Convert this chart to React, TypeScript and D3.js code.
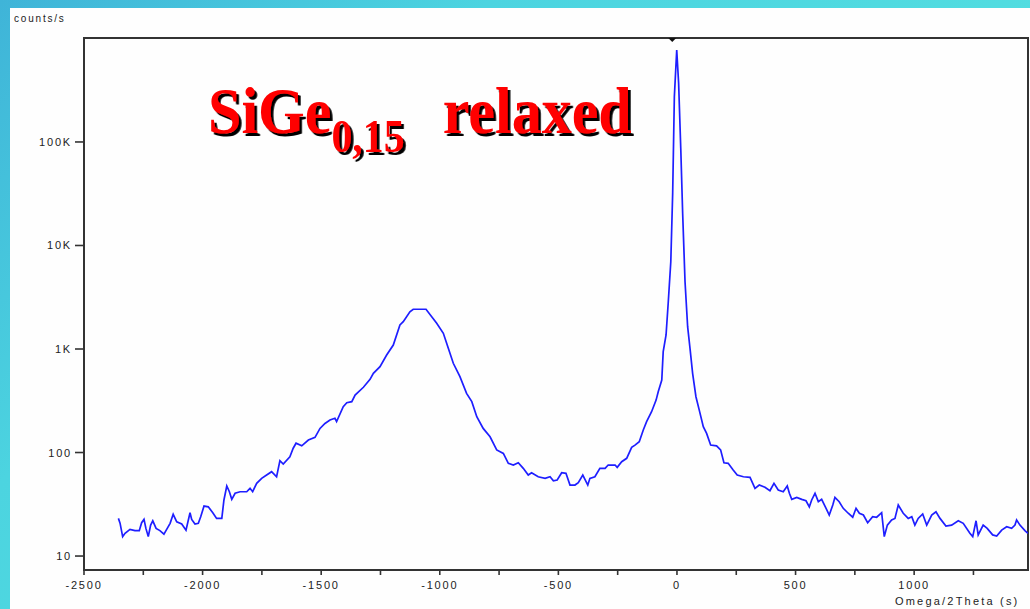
import React from "react";
import * as d3 from "d3";

// Omega/2Theta angle (s) and intensity (counts/s)
const angle = [
  -2355, -2348, -2337, -2327, -2306, -2285, -2267, -2257, -2247, -2239,
  -2229, -2219, -2210, -2196, -2180, -2163, -2149, -2137, -2124, -2109,
  -2088, -2070, -2053, -2046, -2032, -2018, -2008, -1994, -1976, -1957,
  -1941, -1919, -1910, -1898, -1887, -1877, -1863, -1842, -1814, -1800,
  -1789, -1772, -1751, -1730, -1709, -1688, -1674, -1660, -1632, -1618,
  -1606, -1582, -1554, -1526, -1505, -1484, -1463, -1442, -1435, -1407,
  -1392, -1371, -1357, -1322, -1294, -1280, -1252, -1224, -1196, -1168,
  -1154, -1126, -1112, -1058, -1034, -1013, -985, -964, -943, -915,
  -887, -865, -844, -817, -788, -760, -732, -711, -690, -669,
  -648, -627, -613, -585, -556, -535, -521, -505, -486, -468,
  -451, -430, -416, -397, -388, -376, -367, -346, -325, -303,
  -290, -261, -252, -233, -212, -191, -177, -159, -142, -128,
  -107, -88, -79, -64, -58, -46, -37, -26, -18, -11,
  -1, 7, 16, 24, 34, 45, 55, 66, 80, 94,
  111, 125, 142, 167, 184, 198, 216, 237, 254, 280,
  308, 329, 347, 371, 392, 409, 427, 448, 465, 474,
  484, 505, 526, 544, 558, 568, 582, 596, 610, 624,
  642, 657, 666, 684, 701, 722, 741, 755, 769, 786,
  804, 825, 842, 863, 874, 887, 905, 919, 933, 954,
  975, 990, 1003, 1017, 1036, 1053, 1074, 1092, 1109, 1134,
  1158, 1186, 1207, 1235, 1247, 1261, 1270, 1291, 1308, 1331,
  1348, 1369, 1390, 1411, 1425, 1432, 1446, 1467, 1480,
];

const counts = [
  23.1, 20.8, 15.4, 16.6, 18.1, 17.6, 17.6, 21.0, 22.6, 18.5,
  15.4, 19.9, 21.9, 18.5, 17.6, 16.3, 18.5, 20.7, 25.3, 21.4,
  20.4, 17.8, 26.2, 22.6, 20.4, 20.7, 24.0, 30.4, 29.9, 26.2,
  23.1, 23.1, 34.8, 47.5, 41.8, 35.3, 40.4, 41.8, 41.8, 45.1,
  41.8, 50.4, 56.3, 60.6, 65.3, 58.3, 83.4, 77.4, 91.1, 110,
  123, 116, 132, 140, 171, 191, 206, 214, 199, 277,
  303, 310, 359, 427, 509, 582, 675, 875, 1093, 1706,
  1836, 2291, 2420, 2420, 2051, 1771, 1419, 1016, 728, 540,
  373, 310, 222, 171, 142, 106, 98, 78.7, 75.7, 79.6,
  70.3, 60.6, 63.8, 58.3, 56.3, 58.3, 53.4, 54.2, 63.8, 63.0,
  48.5, 48.5, 51.1, 60.6, 55.1, 48.5, 56.3, 58.3, 70.3, 70.3,
  75.7, 75.7, 71.9, 81.5, 87.9, 112, 118, 127, 165, 199,
  248, 321, 387, 501, 942, 1365, 2765, 6970, 32400, 274000,
  774000, 369000, 86900, 20500, 4470, 1643, 1016, 582, 346, 257,
  178, 153, 118, 116, 106, 79.6, 78.7, 67.7, 60.6, 58.3,
  57.5, 45.1, 48.5, 46.1, 42.8, 50.4, 43.4, 41.8, 47.5, 40.4,
  35.3, 36.9, 35.3, 34.2, 29.9, 34.8, 40.4, 33.5, 35.3, 30.4,
  24.9, 31.1, 36.9, 33.5, 28.9, 25.9, 23.7, 28.9, 25.9, 24.9,
  21.0, 24.0, 23.7, 26.2, 15.4, 19.9, 22.3, 23.1, 31.1, 25.9,
  23.1, 24.0, 19.9, 23.1, 25.5, 19.9, 24.9, 26.8, 23.1, 19.5,
  19.9, 21.9, 20.7, 16.6, 15.4, 21.9, 16.0, 19.9, 18.5, 16.0,
  15.6, 17.8, 19.2, 18.5, 19.9, 22.3, 19.9, 17.6, 16.6,
];

const xTicks = [-2500, -2250, -2000, -1750, -1500, -1250, -1000, -750, -500, -250, 0, 250, 500, 750, 1000, 1250];
const xTickLabels = [-2500, -2000, -1500, -1000, -500, 0, 500, 1000];
const yTicks = [10, 100, 1000, 10000, 100000];
const yTickLabels = ["10", "100", "1K", "10K", "100K"];
const markerAngle = -20;

const xDomain = [-2500, 1480];
const yDomain = [7.33, 1.01e6];

export default function App() {
  const W = 1030, H = 609;
  const left = 84, right = 1028, top = 38, bottom = 570;
  const x = d3.scaleLinear().domain(xDomain).range([left, right]);
  const y = d3.scaleLog().domain(yDomain).range([bottom, top]);
  const pts: [number, number][] = angle.map((a, i) => [a, counts[i]]);
  const line = d3.line<[number, number]>().x(d => x(d[0])).y(d => y(d[1]));
  const tickFont = "'Liberation Sans', Arial, sans-serif";
  const tx = x(markerAngle);

  const titleStyle = { fontFamily: "'Liberation Serif', 'Times New Roman', serif", fontWeight: 700 } as const;

  return (
    <svg width={W} height={H} style={{ position: "absolute", left: 0, top: 0 }}>
      <defs>
        <linearGradient id="bg" x1="0" y1="0" x2="1" y2="0.6">
          <stop offset="0" stopColor="#3fb4d8" />
          <stop offset="0.35" stopColor="#4cd4e0" />
          <stop offset="1" stopColor="#55e2e0" />
        </linearGradient>
        <clipPath id="plotClip">
          <rect x={left} y={top} width={right - left} height={bottom - top} />
        </clipPath>
        <filter id="shadow" x="-10%" y="-10%" width="120%" height="130%">
          <feDropShadow dx={3} dy={3} stdDeviation={0.4} floodColor="#000" floodOpacity={1} />
        </filter>
      </defs>
      <rect x={0} y={0} width={W} height={H} fill="url(#bg)" />
      <rect x={10} y={8} width={W - 10} height={H - 8} fill="#fefefe" />

      <text x={14} y={22} fontSize={10} fill="#222" fontFamily={tickFont} letterSpacing={1.8}>counts/s</text>

      {/* frame */}
      <rect x={left} y={top} width={right - left} height={bottom - top} fill="none" stroke="#333" strokeWidth={2} />
      <path d={`M${tx - 4},${top} L${tx + 4},${top} L${tx},${top + 4} Z`} fill="#111" />

      {/* y ticks */}
      {yTicks.map((t, i) => (
        <g key={t}>
          <line x1={left - 9} x2={left} y1={y(t)} y2={y(t)} stroke="#333" strokeWidth={1.6} />
          <text x={left - 12} y={y(t) + 4} textAnchor="end" fontSize={11} fill="#222" fontFamily={tickFont} letterSpacing={1.8}>{yTickLabels[i]}</text>
        </g>
      ))}

      {/* x ticks */}
      {xTicks.map(t => (
        <line key={t} x1={x(t)} x2={x(t)} y1={bottom} y2={bottom + 5} stroke="#333" strokeWidth={1.6} />
      ))}
      {xTickLabels.map(t => (
        <text key={t} x={x(t)} y={589} textAnchor="middle" fontSize={11} fill="#222" fontFamily={tickFont} letterSpacing={1.8}>{String(t)}</text>
      ))}
      <text x={895} y={605} fontSize={11} fill="#222" fontFamily={tickFont} letterSpacing={2.2}>Omega/2Theta (s)</text>

      <path d={line(pts) || ""} fill="none" stroke="#1e1eff" strokeWidth={1.7} clipPath="url(#plotClip)" />

      <g transform="translate(208,133) scale(0.91,1)" fill="#ff0000" style={titleStyle} filter="url(#shadow)">
        <text x={0} y={0} fontSize={66}>SiGe<tspan dy={19} fontSize={46}>0,15</tspan><tspan dy={-19} fontSize={66}>{"\u00a0"}</tspan><tspan x={258} fontSize={66}>relaxed</tspan></text>
      </g>
    </svg>
  );
}
